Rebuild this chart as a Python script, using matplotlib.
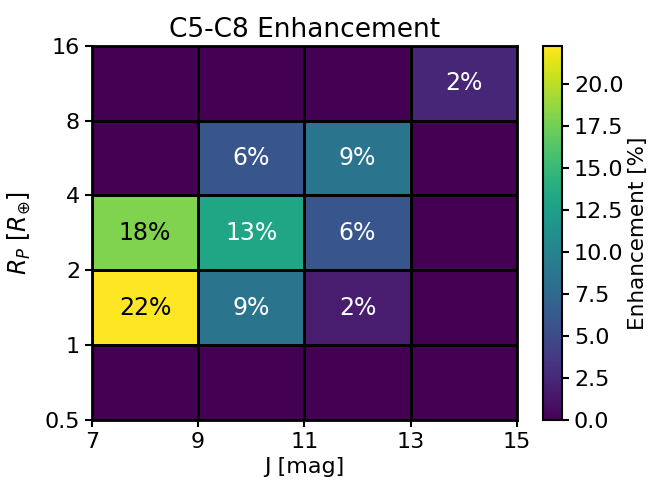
import numpy as np
import matplotlib
matplotlib.use("Agg")
import matplotlib.pyplot as plt
from matplotlib.ticker import FixedLocator, FixedFormatter, NullLocator

j_edges = [7, 9, 11, 13, 15]
r_edges = [0.5, 1, 2, 4, 8, 16]
r_labels = ["0.5", "1", "2", "4", "8", "16"]
# rows: R bins from 0.5-1 up to 8-16; columns: J bins
row_05_1 = [0.0, 0.0, 0.0, 0.0]
row_1_2 = [22.3, 8.6, 1.7, 0.0]
row_2_4 = [18.0, 13.2, 6.0, 0.0]
row_4_8 = [0.0, 6.0, 8.6, 0.0]
row_8_16 = [0.0, 0.0, 0.0, 2.4]

Z = np.array([row_05_1, row_1_2, row_2_4, row_4_8, row_8_16])

fig = plt.figure(figsize=(6.56, 4.87), dpi=100)
ax = fig.add_axes([0.140, 0.138, 0.648, 0.768])
cax = fig.add_axes([0.828, 0.138, 0.029, 0.768])

mesh = ax.pcolormesh(j_edges, r_edges, Z, cmap="viridis", vmin=0, vmax=Z.max(),
                     edgecolors="black", linewidth=2)
ax.set_yscale("log", base=2)
ax.set_xlim(7, 15)
ax.set_ylim(0.5, 16)
ax.yaxis.set_major_locator(FixedLocator(r_edges))
ax.yaxis.set_major_formatter(FixedFormatter(r_labels))
ax.yaxis.set_minor_locator(NullLocator())
ax.set_xticks(j_edges)
ax.tick_params(labelsize=16, width=1.5, length=5)
for s in ax.spines.values():
    s.set_linewidth(2)

for i in range(Z.shape[0]):
    for k in range(Z.shape[1]):
        v = Z[i, k]
        if v > 0:
            xc = (j_edges[k] + j_edges[k + 1]) / 2
            yc = np.sqrt(r_edges[i] * r_edges[i + 1])
            col = "black" if v > 15 else "white"
            ax.text(xc, yc, f"{v:.0f}%", ha="center", va="center", fontsize=17, color=col)

ax.set_xlabel("J [mag]", fontsize=16)
ax.set_ylabel(r"$R_P$ [$R_{\oplus}$]", fontsize=17, labelpad=8)
ax.set_title("C5-C8 Enhancement", fontsize=19)

cb = fig.colorbar(mesh, cax=cax)
cb.set_ticks(np.arange(0, 22.5, 2.5))
cb.ax.tick_params(labelsize=16, width=1.5, length=5)
cb.set_label("Enhancement [%]", fontsize=15.5, labelpad=3)
cb.outline.set_linewidth(1.5)

fig.savefig("out.png", dpi=100)
